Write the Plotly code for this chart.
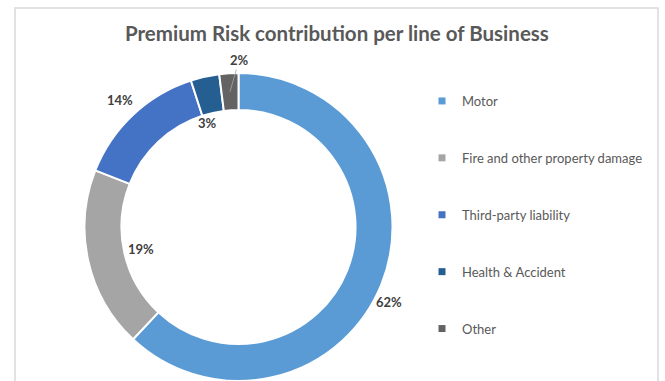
import math
import plotly.graph_objects as go

# ---- data ----
categories = ["Motor", "Fire and other property damage", "Third-party liability",
              "Health & Accident", "Other"]
values = [62, 19, 14, 3, 2]
colors = ["#5B9BD5", "#A5A5A5", "#4472C4", "#255E91", "#636363"]
title_text = "Premium Risk contribution per line of Business"

# label placement per slice: radial factor of outer radius, angle nudge (deg)
label_radius = [1.087, 0.646, 1.127, 0.705, 1.084]
label_nudge = [4.7, 0.2, 0.3, -3.7, 3.8]

# ---- layout geometry (px) ----
W, H = 665, 381
CX, CY, R = 238.5, 227.5, 154.5

fig = go.Figure()

fig.add_trace(go.Pie(
    labels=categories,
    values=values,
    marker=dict(colors=colors, line=dict(color="white", width=2)),
    hole=0.76,
    sort=False,
    direction="clockwise",
    rotation=0,
    textinfo="none",
    hoverinfo="label+percent",
    showlegend=False,
    domain=dict(x=[(CX - R) / W, (CX + R) / W],
                y=[max(0.0, 1 - (CY + R) / H), 1 - (CY - R) / H]),
))

# legend via marker-only proxies
for name, col in zip(categories, colors):
    fig.add_trace(go.Scatter(
        x=[None], y=[None], mode="markers", name=name, legendgroup=name,
        marker=dict(symbol="square", size=7, color=col),
    ))

# data labels at slice mid-angles
total = sum(values)
cum = 0
annotations = []
font = dict(family="Lato, Open Sans, sans-serif", size=13, color="#404040", weight="bold")
for i, v in enumerate(values):
    mid = (cum + v / 2) / total * 360.0
    cum += v
    r = label_radius[i] * R
    ang = math.radians(mid + label_nudge[i])
    txt = f"{round(v / total * 100)}%"
    lx, ly = CX + r * math.sin(ang), CY - r * math.cos(ang)
    if i == len(values) - 1:
        # small slice: label pushed up with leader line
        tipr = 0.88 * R
        m = math.radians(mid)
        tx, ty = CX + tipr * math.sin(m), CY - tipr * math.cos(m)
        annotations.append(dict(
            x=tx / W, y=1 - ty / H, xref="paper", yref="paper",
            ax=lx - tx, ay=ly - ty, axref="pixel", ayref="pixel",
            xanchor="center", yanchor="middle",
            text=txt, showarrow=True, arrowhead=0, arrowwidth=0.8,
            arrowcolor="#A6A6A6", standoff=0, startstandoff=0, font=font))
    else:
        annotations.append(dict(x=lx / W, y=1 - ly / H, xref="paper", yref="paper",
                                xanchor="center", yanchor="middle",
                                text=txt, showarrow=False, font=font))

annotations.append(dict(
    x=337 / W, y=1 - 33 / H, xref="paper", yref="paper", text=title_text,
    showarrow=False, xanchor="center", yanchor="middle",
    font=dict(family="Lato, Open Sans, sans-serif", size=20.5, color="#595959", weight="bold")))

fig.update_layout(
    width=W, height=H,
    margin=dict(l=0, r=0, t=0, b=0),
    paper_bgcolor="white", plot_bgcolor="white",
    xaxis=dict(visible=False), yaxis=dict(visible=False),
    annotations=annotations,
    showlegend=True,
    legend=dict(x=422 / W, y=1 - 86 / H, xanchor="left", yanchor="top",
                tracegroupgap=37, itemwidth=30,
                font=dict(family="Lato, Open Sans, sans-serif", size=13, color="#595959"),
                bgcolor="rgba(0,0,0,0)"),
    shapes=[dict(type="rect", xref="paper", yref="paper",
                 x0=15 / W, x1=658 / W, y0=-0.1, y1=1 - 8 / H,
                 line=dict(color="#D9D9D9", width=1.5), fillcolor="rgba(0,0,0,0)",
                 layer="below")],
)

fig.write_html("out.html")
